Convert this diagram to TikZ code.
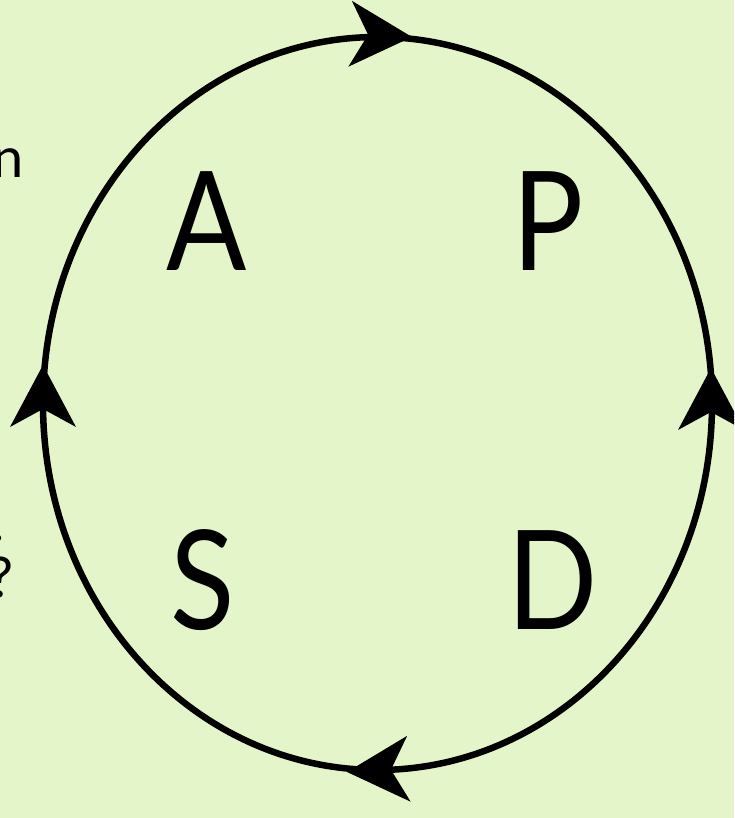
\documentclass[tikz,border=0pt]{standalone}
\usepackage{fontspec}
\setmainfont{Lato}
\definecolor{bg}{RGB}{228,246,201}
\tikzset{
  ring/.style={line width=6.5pt, draw=black},
  letter/.style={font=\fontsize{138}{140}\selectfont, text=black, inner sep=0pt, anchor=base, xscale=0.86, transform shape},
  edgetext/.style={font=\fontsize{56}{60}\selectfont, text=black, inner sep=0pt, anchor=base},
  headpic/.pic={\fill[black] (0,0) -- (-62,33) -- (-44,0) -- (-62,-33) -- cycle;}
}
\begin{document}
\begin{tikzpicture}[x=1pt,y=1pt]
\fill[bg] (0,0) rectangle (734,818);
\useasboundingbox (0,0) rectangle (734,818);
\begin{scope}
\clip (0,0) rectangle (734,818);
% cycle ring
\coordinate (ringc) at (377.5,414.5);
\draw[ring] (ringc) ellipse [x radius=334.5, y radius=366.5];
% arrowheads
\coordinate (tipTop) at (412,781);
\coordinate (tipRight) at (711,450);
\coordinate (tipBottom) at (347,46);
\coordinate (tipLeft) at (43,453);
\pic[rotate=-3] at (tipTop) {headpic};
\pic[rotate=90] at (tipRight) {headpic};
\pic[rotate=183] at (tipBottom) {headpic};
\pic[rotate=90] at (tipLeft) {headpic};
% letters
\node[letter] (A) at (207,547) {A};
\node[letter] (P) at (548,547) {P};
\node[letter] (S) at (203,188) {S};
\node[letter] (D) at (553,188) {D};
% clipped text at left edge
\node[edgetext, anchor=base east] (n) at (24,640) {n};
\node[edgetext, anchor=base east] (q) at (14,220) {?};
\node[edgetext, anchor=base east] (dot) at (5,276) {.};
\end{scope}
\end{tikzpicture}
\end{document}
